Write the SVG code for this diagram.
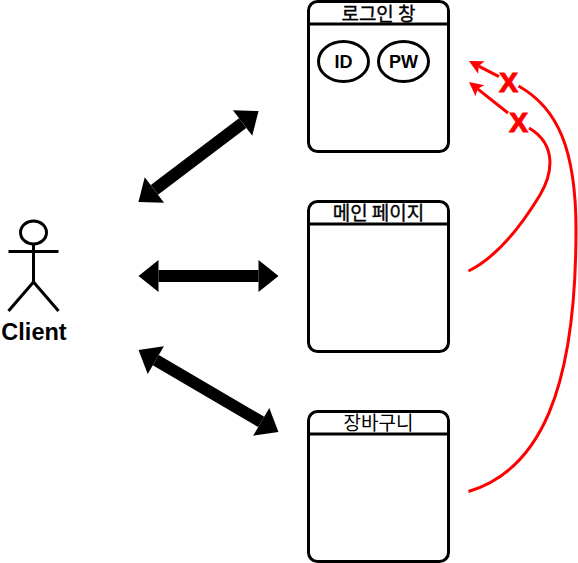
<svg xmlns="http://www.w3.org/2000/svg" width="578" height="563" viewBox="0 0 578 563">
<style>
.bg{fill:#fff}
.line{fill:none;stroke:#000;stroke-width:3}
.block{fill:none;stroke:#000;stroke-width:12;marker-start:url(#block);marker-end:url(#block)}
.red{fill:none;stroke:#f00;stroke-width:3}
.redarrow{fill:none;stroke:#f00;stroke-width:3;marker-end:url(#redhead)}
.title{font-family:"Noto Sans CJK KR","Liberation Sans",sans-serif;font-size:19px;text-anchor:middle;fill:#000}
.heavy{stroke:#000;stroke-width:.35}
.lab{font-family:"Liberation Sans",sans-serif;font-weight:bold;text-anchor:middle;fill:#000}
.x{font-family:"Liberation Sans",sans-serif;font-weight:bold;font-size:28px;text-anchor:middle;fill:#f00;stroke:#f00;stroke-width:1.2}
</style>
<defs>
<marker id="block" markerUnits="userSpaceOnUse" markerWidth="22" markerHeight="34" refX="1" refY="17" orient="auto-start-reverse"><path d="M1 1L21 17L1 33Z" fill="#000"/></marker>
<marker id="redhead" markerUnits="userSpaceOnUse" markerWidth="18" markerHeight="18" refX="5" refY="9" orient="auto"><path d="M2 2L16 9L2 16L5 9Z" fill="#f00"/></marker>
</defs>
<rect class="bg" width="578" height="563"/>
<g id="login">
<rect class="line" x="308.5" y="1.5" width="140" height="150" rx="9"/>
<path class="line" d="M308.5 24H448.5"/>
<text class="title heavy" x="378.5" y="20.5">로그인 창</text>
<ellipse class="line" cx="343.5" cy="61.5" rx="25" ry="20"/>
<text class="lab" x="343.5" y="68" font-size="18">ID</text>
<ellipse class="line" cx="403.5" cy="61.5" rx="25" ry="20"/>
<text class="lab" x="403.5" y="68" font-size="18">PW</text>
</g>
<g id="main">
<rect class="line" x="308.5" y="201.5" width="140" height="150" rx="9"/>
<path class="line" d="M308.5 224H448.5"/>
<text class="title heavy" x="378.5" y="219.5">메인 페이지</text>
</g>
<g id="cart">
<rect class="line" x="308.5" y="411.5" width="140" height="150" rx="9"/>
<path class="line" d="M308.5 434H448.5"/>
<text class="title" x="378.5" y="429.5">장바구니</text>
</g>
<g id="client">
<ellipse class="line" cx="33.5" cy="232.5" rx="13" ry="11.5"/>
<path class="line" d="M33.5 244V282M8.5 251.5H58.5M33.5 282L8.5 311M33.5 282L58.5 311"/>
<text class="lab" x="34" y="340" font-size="23.5">Client</text>
</g>
<g id="connectors">
<line class="block" x1="154.4" y1="189.9" x2="242.6" y2="123.1"/>
<line class="block" x1="158.5" y1="276" x2="258.5" y2="276"/>
<line class="block" x1="155.8" y1="360.1" x2="261.2" y2="421.9"/>
<path class="red" d="M468.5 271C495 258 520 228 540 195C552 175 558 145 529 128"/>
<path class="red" d="M468.5 491.5C540 470 576 390 576 230C576 150 558 108 518.5 86"/>
<line class="redarrow" x1="499" y1="76.7" x2="478.7" y2="66.1"/>
<line class="redarrow" x1="508" y1="113" x2="477.6" y2="88.8"/>
</g>
<text class="x" x="508.5" y="91.5">X</text>
<text class="x" x="518.5" y="131.5">X</text>
</svg>
